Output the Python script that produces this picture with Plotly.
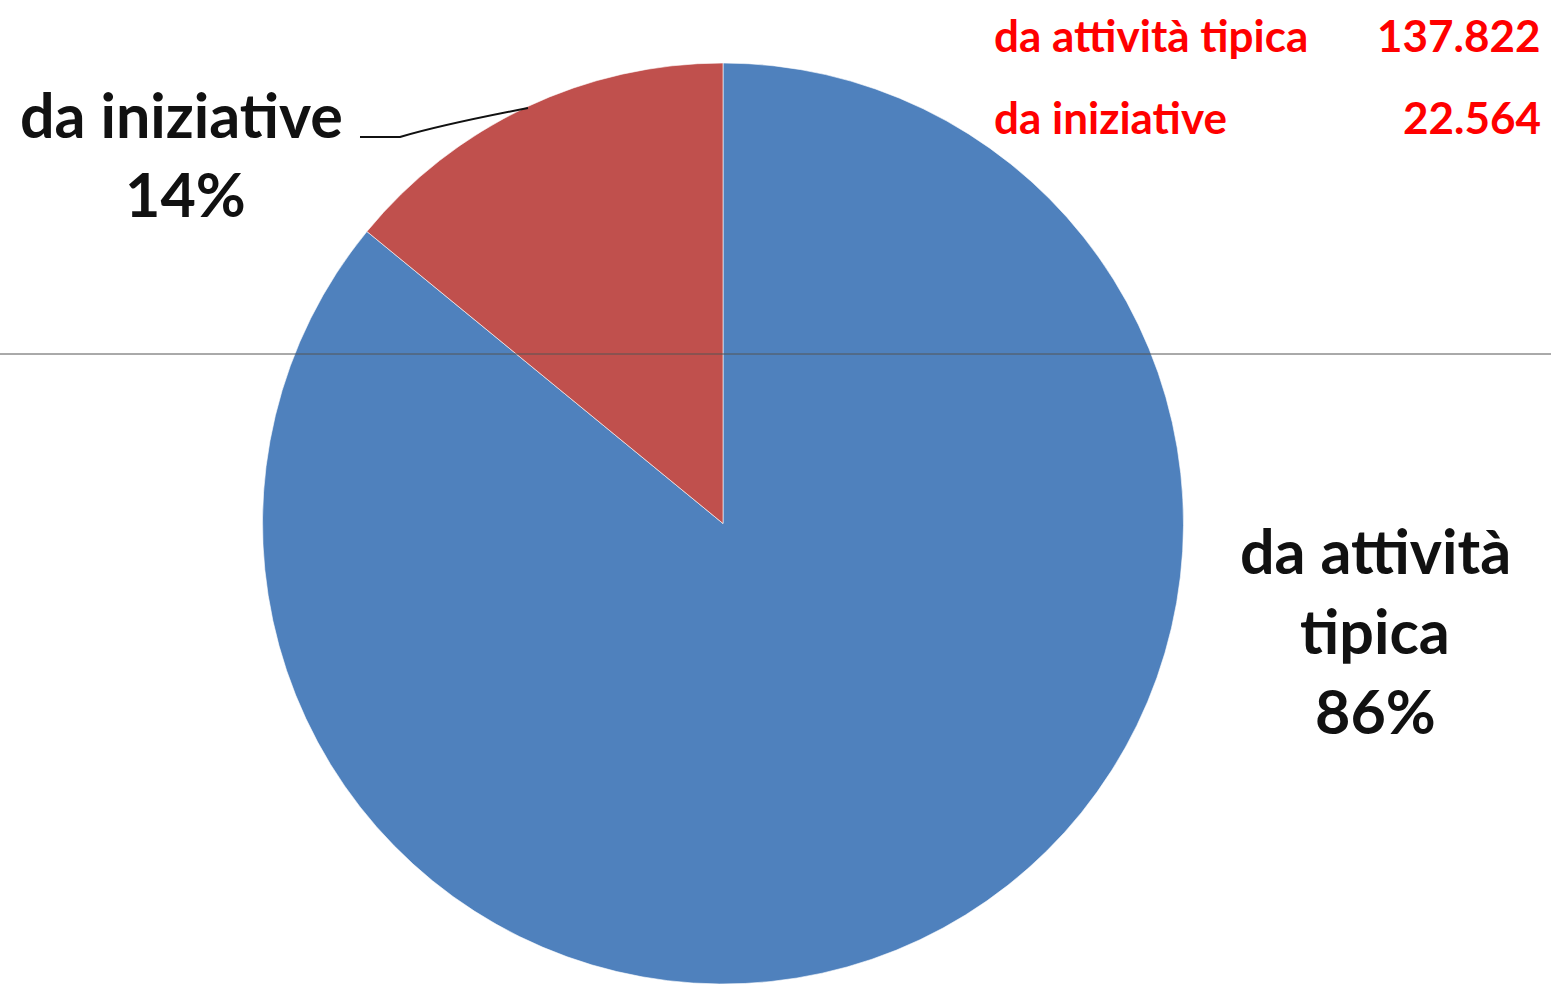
import plotly.graph_objects as go

categories = ["da attività tipica", "da iniziative"]
values = [137822, 22564]
value_labels = ["137.822", "22.564"]
colors = ["#4F81BD", "#C0504D"]

W, H = 1551, 984

def px(x):
    return x / W

def py(y):
    return 1 - y / H

total = sum(values)
pct = [round(v / total * 100) for v in values]

fig = go.Figure(go.Pie(
    labels=categories,
    values=values,
    sort=False,
    direction="clockwise",
    rotation=0,
    marker=dict(colors=colors, line=dict(color="rgba(255,255,255,0.6)", width=1)),
    textinfo="none",
    hoverinfo="label+value+percent",
    showlegend=False,
    domain=dict(x=[px(723) - 0.31, px(723) + 0.31], y=[0, py(63)]),
))

font_black = dict(family="Lato", size=61, color="#111111")
font_red = dict(family="Lato", size=44, color="#FF0000")

ann = []
# black data labels
ann.append(dict(x=px(181), y=py(115), text="<b>" + categories[1] + "</b>", font=font_black))
ann.append(dict(x=px(185), y=py(193), text="<b>%d%%</b>" % pct[1], font=font_black))
words = categories[0].split(" ")
ann.append(dict(x=px(1375), y=py(550), text="<b>" + " ".join(words[:2]) + "</b>", font=font_black))
ann.append(dict(x=px(1375), y=py(630), text="<b>" + words[2] + "</b>", font=font_black))
ann.append(dict(x=px(1375), y=py(710), text="<b>%d%%</b>" % pct[0], font=font_black))
# red summary table
for i, yy in enumerate([35, 117]):
    ann.append(dict(x=px(992), y=py(yy), xanchor="left", text="<b>" + categories[i] + "</b>", font=font_red))
    ann.append(dict(x=px(1543), y=py(yy), xanchor="right", text="<b>" + value_labels[i] + "</b>", font=font_red))
for a in ann:
    a.update(xref="paper", yref="paper", showarrow=False, yanchor=a.get("yanchor", "middle"))
    a.setdefault("xanchor", "center")

shapes = [
    dict(type="line", xref="paper", yref="paper", x0=0, x1=1, y0=py(354), y1=py(354),
         line=dict(color="#555555", width=1)),
    dict(type="path", xref="paper", yref="paper",
         path="M %f,%f L %f,%f Q %f,%f %f,%f" % (px(360), py(137), px(400), py(137),
                                                px(440), py(125), px(528), py(108)),
         line=dict(color="#111111", width=2)),
]

fig.update_layout(
    width=W, height=H,
    margin=dict(l=0, r=0, t=0, b=0),
    paper_bgcolor="white",
    plot_bgcolor="white",
    annotations=ann,
    shapes=shapes,
)

fig.write_html("out.html", config={"displayModeBar": False},
               post_script="document.body.style.margin='0';")
